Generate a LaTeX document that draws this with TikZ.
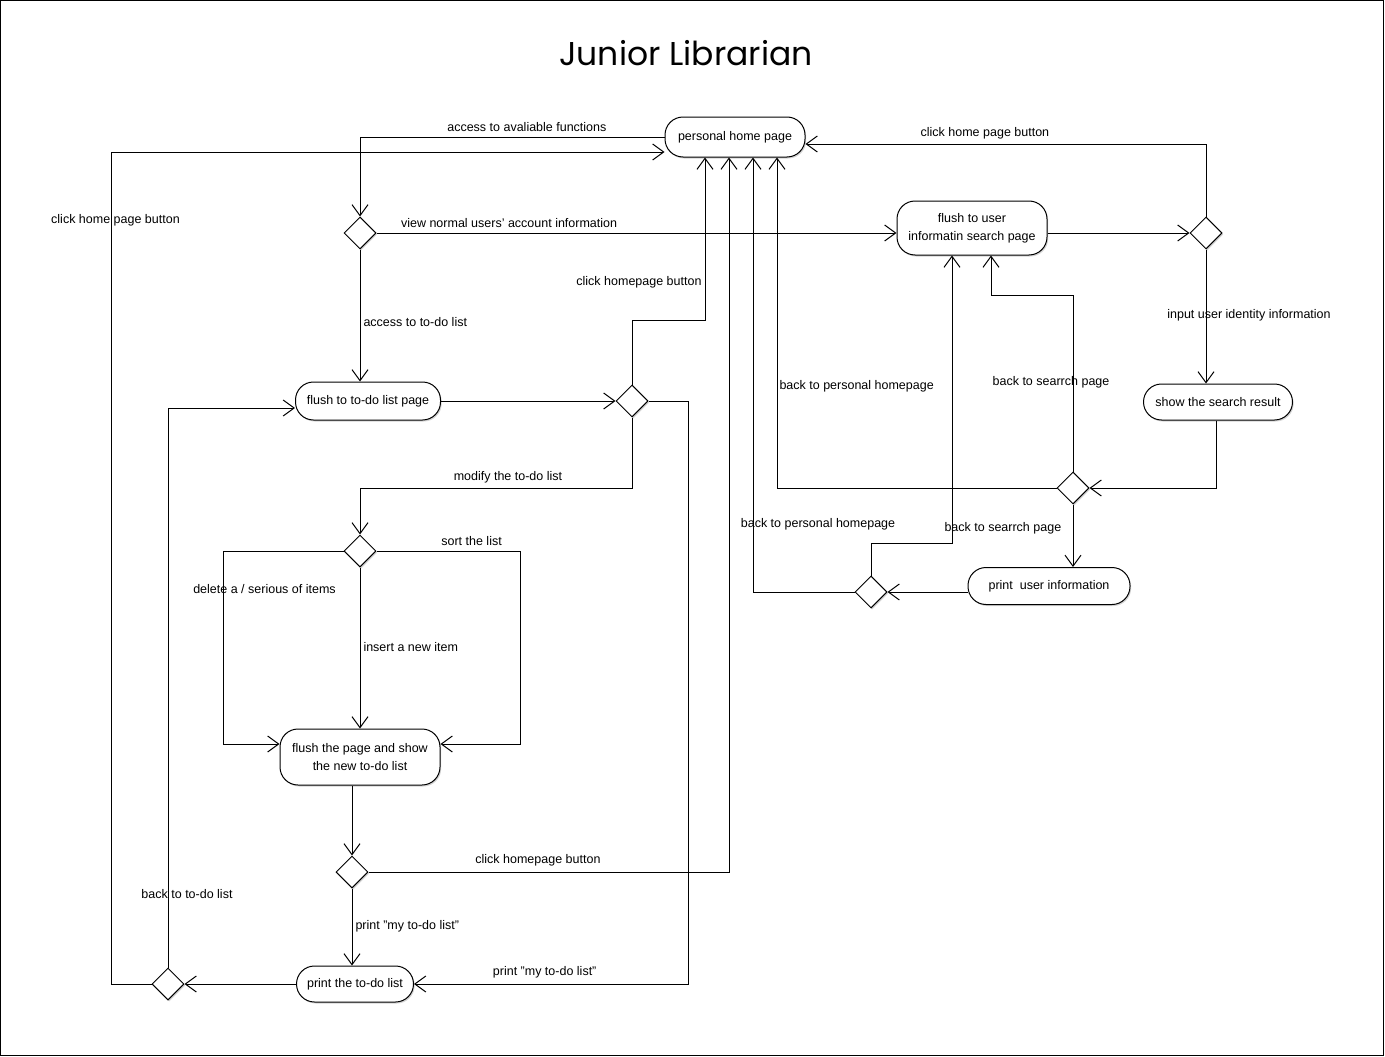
\documentclass[tikz,border=0pt]{standalone}
\usepackage{fontspec}
\setmainfont{Liberation Sans}
\newfontfamily\titlefont{Poppins}
\usepackage{tikz}
\usetikzlibrary{arrows.meta,shapes.geometric,shadows,calc}

\newcommand{\lblfont}{\fontsize{12.5}{18}\selectfont}

\begin{document}
\begin{tikzpicture}[
        x=1pt, y=-1pt,
        line width=1pt,
        >={Straight Barb[length=11pt,width=16pt]},
        act/.style={draw, fill=white, rounded corners=18pt, align=center,
            inner sep=0pt, font=\lblfont,
            drop shadow={shadow xshift=1.2pt, shadow yshift=-1.5pt, opacity=0.35}},
        choice/.style={diamond, draw, fill=white, aspect=1, inner sep=0pt,
            minimum size=32pt,
            drop shadow={shadow xshift=1.2pt, shadow yshift=-1.5pt, opacity=0.35}},
        lbl/.style={font=\lblfont, inner sep=1pt}
    ]
        \useasboundingbox (0,0) rectangle (1385,1057);
        \draw (0.5,0.5) rectangle (1383.5,1055.5);

        \node[font=\titlefont\fontsize{33}{38}\selectfont] (title) at (686,53) {Junior Librarian};

        % activities
        \node[act, minimum width=140pt, minimum height=40pt] (home) at (735,137) {personal home page};
        \node[act, minimum width=150pt, minimum height=54pt] (search) at (972,228) {flush to user\\informatin search page};
        \node[act, minimum width=149pt, minimum height=36pt] (result) at (1218,402) {show the search result};
        \node[act, minimum width=162pt, minimum height=37pt] (info) at (1049,586) {print\ \ user information};
        \node[act, minimum width=145pt, minimum height=38pt] (todo) at (368,401) {flush to to-do list page};
        \node[act, minimum width=160pt, minimum height=56pt] (newlist) at (360,757) {flush the page and show\\the new to-do list};
        \node[act, minimum width=117pt, minimum height=36pt] (printlist) at (355,984) {print the to-do list};

        % decisions
        \node[choice] (d1) at (360,233) {};
        \node[choice] (d2) at (1206,233) {};
        \node[choice] (d3) at (1073,488) {};
        \node[choice] (d4) at (871,592) {};
        \node[choice] (d5) at (632,401) {};
        \node[choice] (d6) at (360,551) {};
        \node[choice] (d7) at (352,872) {};
        \node[choice] (d8) at (168,984) {};

        % home page side
        \draw[->] (home.west) -| node[lbl, pos=0.226, above=4pt] {access to avaliable functions} (d1.north);
        \draw[->] (d1.east) -- node[lbl, pos=0.255, above=4pt] {view normal users' account information} (d1.east -| search.west);
        \draw[->] (d1.south) -- node[lbl, pos=0.55, right=2pt] {access to to-do list} (d1.south |- todo.north);
        \draw[->] (d8.west) -- ++(-40,0) |- node[lbl, pos=0.459, xshift=4pt] {click home page button} ($(home.west)+(0,15)$);

        % search side
        \draw[->] (search.east |- d2.west) -- (d2.west);
        \draw[->] (d2.north) |- node[lbl, pos=0.776, above=3pt] {click home page button} ($(home.east)+(0,7)$);
        \draw[->] (d2.south) -- node[lbl, pos=0.49, xshift=43pt] {input user identity information} (d2.south |- result.north);
        \draw[->] ($(result.south)+(-2,0)$) |- (d3.east);
        \draw[->] (d3.north) -- node[lbl, pos=0.506, xshift=-22pt] {back to searrch page} ++(0,-176) -| ($(search.south)+(19,0)$);
        \draw[->] (d3.west) -| node[lbl, pos=0.654, anchor=west, xshift=1pt] {back to personal homepage} ($(home.south)+(42,0)$);
        \draw[->] (d3.south) -- (d3.south |- info.north);
        \draw[->] (info.west |- d4.east) -- (d4.east);
        \draw[->] (d4.west) -| node[lbl, pos=0.578, xshift=65pt] {back to personal homepage} ($(home.south)+(18,0)$);
        \draw[->] (d4.north) -- ++(0,-32) -| node[lbl, pos=0.5, anchor=south west, xshift=-9pt, yshift=8pt] {back to searrch page} ($(search.south)+(-20,0)$);

        % to-do list side
        \draw[->] (todo.east) -- (d5.west);
        \draw[->] (d5.north) -- ++(0,-64) -| node[lbl, pos=0.616, anchor=east, xshift=-2pt] {click homepage button} ($(home.south)+(-30,0)$);
        \draw[->] (d5.south) -- ++(0,71) -| node[lbl, pos=0.228, above=4pt] {modify the to-do list} (d6.north);
        \draw[->] (d5.east) -- ++(40,0) |- node[lbl, pos=0.762, above=4pt] {print "my to-do list"} (printlist.east);
        \draw[->] (d6.south) -- node[lbl, pos=0.494, right=2pt] {insert a new item} (newlist.north);
        \draw[->] (d6.west) -- ++(-120,0) |- node[lbl, pos=0.098, xshift=41pt] {delete a / serious of items} ($(newlist.west)+(0,-13)$);
        \draw[->] (d6.east) -- node[lbl, pos=0.66, above=4pt] {sort the list} ++(144,0) |- ($(newlist.east)+(0,-13)$);
        \draw[->] (d7.north |- newlist.south) -- (d7.north);
        \draw[->] (d7.east) -| node[lbl, pos=0.235, above=4pt] {click homepage button} ($(home.south)+(-6,0)$);
        \draw[->] (d7.south) -- node[lbl, pos=0.49, right=2pt] {print "my to-do list"} (d7.south |- printlist.north);
        \draw[->] (printlist.west) -- (d8.east);
        \draw[->] (d8.north) |- node[lbl, pos=0.066, xshift=19pt] {back to to-do list} ($(todo.west)+(0,7)$);
    \end{tikzpicture}
\end{document}
